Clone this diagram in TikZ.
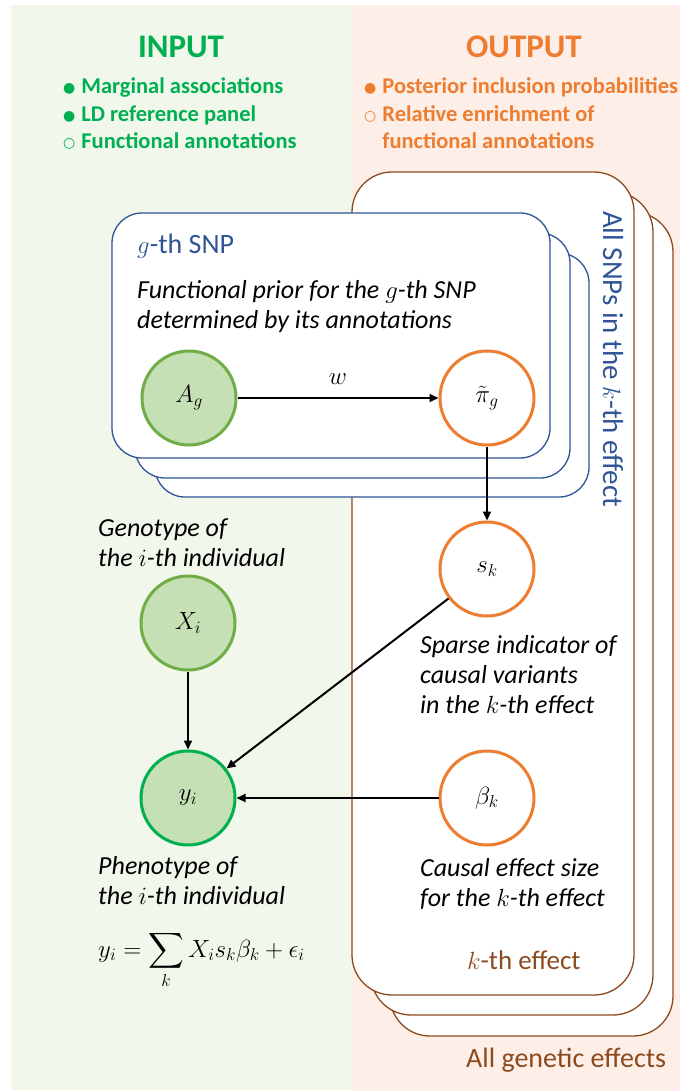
\documentclass[tikz,border=0pt]{standalone}
\usepackage{amsmath}
\usepackage{fontspec}
\setmainfont{Carlito}
\newfontfamily\symbfont{DejaVu Sans}
\usetikzlibrary{arrows.meta}

\definecolor{ingreen}{HTML}{00B050}
\definecolor{outorange}{HTML}{ED7D31}
\definecolor{snpblue}{HTML}{2F5597}
\definecolor{effbrown}{HTML}{8C4A1E}
\definecolor{inbg}{HTML}{F2F7EC}
\definecolor{outbg}{HTML}{FDEFE7}
\definecolor{obsfill}{HTML}{C5E0B4}
\definecolor{obsline}{HTML}{70AD47}

\newcommand{\fsz}[2]{\fontsize{#1}{#2}\selectfont}
\newcommand{\fullb}{\raisebox{1pt}{\symbfont\fsz{14}{14}●}\hspace{6pt}}
\newcommand{\openb}{\raisebox{1pt}{\symbfont\fsz{14}{14}○}\hspace{6pt}}

\tikzset{
  title/.style={font=\fsz{33}{38}\bfseries, anchor=base},
  bullets/.style={font=\fsz{22.5}{27.5}\bfseries, align=left, anchor=base west, inner sep=0pt},
}

\begin{document}
\begin{tikzpicture}[x=1pt,y=-1pt,
  snpplate/.style={draw=snpblue, line width=1.3pt, fill=white, rounded corners=30pt},
  effplate/.style={draw=effbrown, line width=1.3pt, fill=white, rounded corners=40pt},
  obsnode/.style={circle, draw=obsline, fill=obsfill, line width=3pt, minimum size=94pt, inner sep=0pt, font=\fsz{26}{30}},
  hidnode/.style={obsnode, draw=outorange, fill=white},
  edge/.style={line width=2pt, -{Triangle[length=9pt,width=8pt]}},
  desc/.style={font=\fsz{26}{30}\itshape, align=left, anchor=base west, inner sep=0pt},
  plain/.style={anchor=base west, inner sep=0pt}]

\useasboundingbox (0,0) rectangle (680,1091);
\fill[inbg] (11,5) rectangle (352,1090);
\fill[outbg] (352,5) rectangle (680,1091);

% input / output headers (base = last line)
\node[title, text=ingreen] (intitle) at (181,58) {INPUT};
\node[title, text=outorange] (outtitle) at (524,58) {OUTPUT};
\node[bullets, text=ingreen] (inlist) at (63,149)
  {\fullb Marginal associations\\\fullb LD reference panel\\\openb Functional annotations};
\node[bullets, text=outorange] (outlist) at (364,149)
  {\fullb Posterior inclusion probabilities\\\openb Relative enrichment of\\\hphantom{\openb}functional annotations};

% plates for the effects
\draw[effplate] (390,212) rectangle (673,1036);
\draw[effplate] (371,192) rectangle (653,1015);
\draw[effplate] (352,172) rectangle (634,995);

% plates for the SNPs
\draw[snpplate] (155,253) rectangle (589,497);
\draw[snpplate] (135,233) rectangle (570,478);
\draw[snpplate] (112,213) rectangle (550,458);

\node[plain, font=\fsz{28}{32}, text=snpblue] (snplabel) at (137,254) {$g$-th SNP};
\node[desc] (prior) at (137,328) {Functional prior for the $g$-th SNP\\determined by its annotations};
\node[plain, font=\fsz{29}{32}, text=snpblue, rotate=-90] (allsnp) at (603,211) {All SNPs in the $k$-th effect};
\node[plain, font=\fsz{27}{32}, text=effbrown] (efflabel) at (467,969) {$k$-th effect};
\node[plain, font=\fsz{28}{32}, text=effbrown] (alleff) at (466,1067) {All genetic effects};

% variables
\node[obsnode] (A) at (189,398) {$A_g$};
\node[hidnode] (pi) at (487,398) {$\tilde{\pi}_g$};
\node[hidnode] (s) at (487,569) {$s_k$};
\node[hidnode] (beta) at (487,798) {$\beta_k$};
\node[obsnode] (X) at (188,623) {$X_i$};
\node[obsnode, draw=ingreen] (y) at (188,798) {$y_i$};

\draw[edge] (A) -- node[above=9pt, font=\fsz{26}{30}] (wlabel) {$w$} (pi);
\draw[edge] (pi) -- (s);
\draw[edge] (X) -- (y);
\draw[edge] (s) -- (y);
\draw[edge] (beta) -- (y);

% descriptions
\node[desc] (geno) at (98,566) {Genotype of\\the $i$-th individual};
\node[desc] (pheno) at (98,904) {Phenotype of\\the $i$-th individual};
\node[plain, font=\fsz{26}{30}] (model) at (98,957) {$\displaystyle y_i=\sum_k X_i s_k\beta_k+\epsilon_i$};
\node[desc] (sdesc) at (420,713) {Sparse indicator of\\causal variants\\in the $k$-th effect};
\node[desc] (bdesc) at (420,906) {Causal effect size\\for the $k$-th effect};
\end{tikzpicture}
\end{document}
